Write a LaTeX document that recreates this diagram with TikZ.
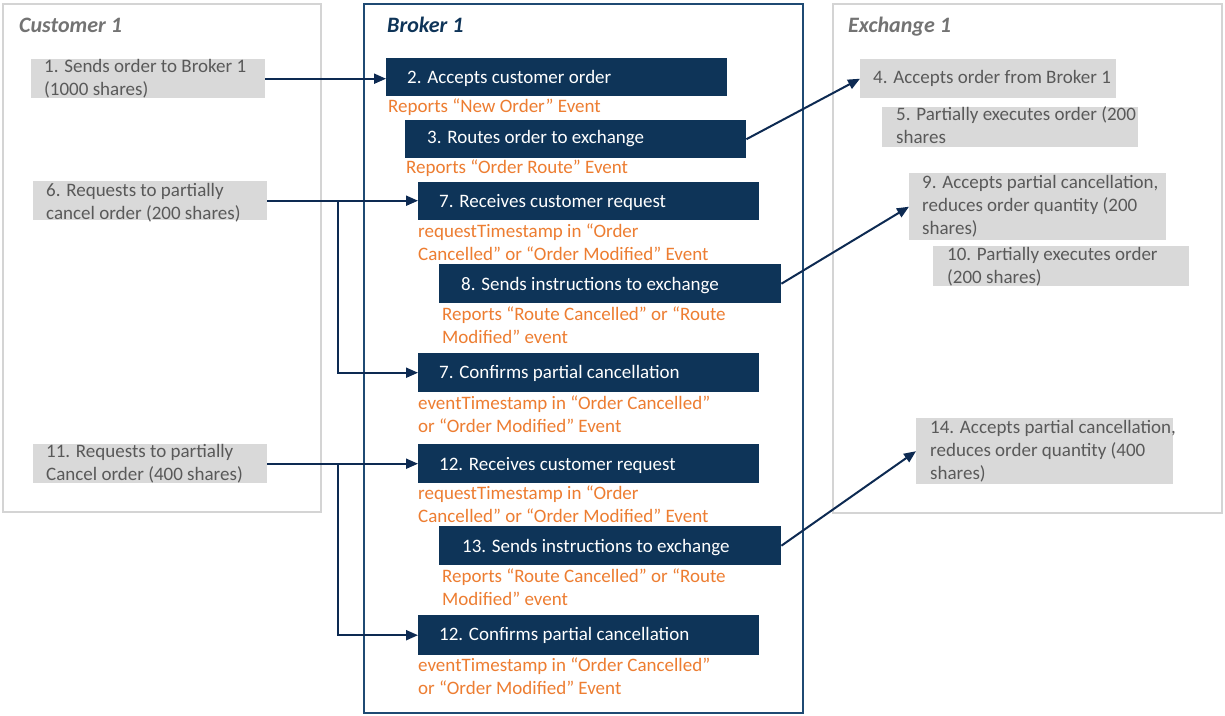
\documentclass[tikz,border=0pt]{standalone}
\usepackage{fontspec}
\setmainfont{Carlito}
\usetikzlibrary{arrows.meta}
\definecolor{navybox}{HTML}{0E3458}
\definecolor{navyline}{HTML}{0D2A52}
\definecolor{brokerframe}{HTML}{1F4A73}
\definecolor{framegray}{HTML}{D4D4D4}
\definecolor{boxgray}{HTML}{D9D9D9}
\definecolor{txtgray}{HTML}{595959}
\definecolor{titlegray}{HTML}{737373}
\definecolor{evorange}{HTML}{ED7D31}
\tikzset{
  frame/.style={draw=framegray, line width=2pt},
  bframe/.style={draw=brokerframe, line width=2pt},
  gbox/.style={fill=boxgray, draw=none, inner sep=0pt, anchor=north west},
  nbox/.style={fill=navybox, draw=none, inner sep=0pt, anchor=north west},
  bodyfont/.style={font=\fontsize{19}{23}\selectfont},
  gtext/.style={bodyfont, align=left, inner sep=0pt, anchor=base west, text=txtgray},
  ntext/.style={bodyfont, align=left, inner sep=0pt, anchor=base west, text=white},
  otext/.style={bodyfont, align=left, inner sep=0pt, anchor=base west, text=evorange},
  ttl/.style={font=\fontsize{22}{26}\selectfont\bfseries\itshape, inner sep=0pt, anchor=base west},
  conn/.style={draw=navyline, line width=2pt, -{Triangle[length=12pt,width=10pt]}}
}
\begin{document}
\begin{tikzpicture}[x=1pt,y=-1pt]
\useasboundingbox (0,0) rectangle (1225,715);
\fill[white] (0,0) rectangle (1225,715);
% frames
\draw[frame] (3,4) rectangle (321,512);
\draw[bframe] (364,4) rectangle (803,713);
\draw[frame] (833,4) rectangle (1222,513);
% titles
\node[ttl, text=titlegray] (tc) at (19,32) {Customer 1};
\node[ttl, text=navybox] (tb) at (387,32) {Broker 1};
\node[ttl, text=titlegray] (te) at (848,32) {Exchange 1};
% customer boxes (text anchors are at the baseline of the last line)
\node[gbox, minimum width=234pt, minimum height=39pt] (c1) at (31,59) {};
\node[gtext] (c1t) at (44,95) {1. Sends order to Broker 1\\(1000 shares)};
\node[gbox, minimum width=234pt, minimum height=39pt] (c6) at (33,181) {};
\node[gtext] (c6t) at (46,219) {6. Requests to partially\\cancel order (200 shares)};
\node[gbox, minimum width=234pt, minimum height=39pt] (c11) at (33,444) {};
\node[gtext] (c11t) at (46,480) {11. Requests to partially\\Cancel order (400 shares)};
% exchange boxes
\node[gbox, minimum width=256pt, minimum height=39pt] (e4) at (860,59) {};
\node[gtext] (e4t) at (873,83) {4. Accepts order from Broker 1};
\node[gbox, minimum width=256pt, minimum height=40pt] (e5) at (882,107) {};
\node[gtext] (e5t) at (896,143) {5. Partially executes order (200\\shares};
\node[gbox, minimum width=257pt, minimum height=67pt] (e9) at (909,173) {};
\node[gtext] (e9t) at (922,234) {9. Accepts partial cancellation,\\reduces order quantity (200\\shares)};
\node[gbox, minimum width=256pt, minimum height=40pt] (e10) at (933,246) {};
\node[gtext] (e10t) at (947,283) {10. Partially executes order\\(200 shares)};
\node[gbox, minimum width=257pt, minimum height=66pt] (e14) at (916,418) {};
\node[gtext] (e14t) at (930,479) {14. Accepts partial cancellation,\\reduces order quantity (400\\shares)};
% broker boxes
\node[nbox, minimum width=341pt, minimum height=38pt] (b2) at (386,58) {};
\node[ntext] (b2t) at (407,83) {2. Accepts customer order};
\node[otext] (o2) at (388,112) {Reports “New Order” Event};
\node[nbox, minimum width=341pt, minimum height=38pt] (b3) at (405,120) {};
\node[ntext] (b3t) at (427,143) {3. Routes order to exchange};
\node[otext] (o3) at (406,173) {Reports “Order Route” Event};
\node[nbox, minimum width=341pt, minimum height=38pt] (b7) at (418,182) {};
\node[ntext] (b7t) at (439,207) {7. Receives customer request};
\node[otext] (o7) at (418,260) {requestTimestamp in “Order\\Cancelled” or “Order Modified” Event};
\node[nbox, minimum width=342pt, minimum height=39pt] (b8) at (439,264) {};
\node[ntext] (b8t) at (461,290) {8. Sends instructions to exchange};
\node[otext] (o8) at (442,343) {Reports “Route Cancelled” or “Route\\Modified” event};
\node[nbox, minimum width=341pt, minimum height=39pt] (b7c) at (418,353) {};
\node[ntext] (b7ct) at (439,378) {7. Confirms partial cancellation};
\node[otext] (o7c) at (418,432) {eventTimestamp in “Order Cancelled”\\or “Order Modified” Event};
\node[nbox, minimum width=341pt, minimum height=39pt] (b12) at (418,444) {};
\node[ntext] (b12t) at (439,470) {12. Receives customer request};
\node[otext] (o12) at (418,522) {requestTimestamp in “Order\\Cancelled” or “Order Modified” Event};
\node[nbox, minimum width=342pt, minimum height=39pt] (b13) at (439,526) {};
\node[ntext] (b13t) at (462,552) {13. Sends instructions to exchange};
\node[otext] (o13) at (442,605) {Reports “Route Cancelled” or “Route\\Modified” event};
\node[nbox, minimum width=341pt, minimum height=40pt] (b12c) at (418,615) {};
\node[ntext] (b12ct) at (439,640) {12. Confirms partial cancellation};
\node[otext] (o12c) at (418,694) {eventTimestamp in “Order Cancelled”\\or “Order Modified” Event};
% junction column
\coordinate (jx) at (338,0);
% connectors
\draw[conn] (c1.east) -- (c1.east -| b2.west);
\draw[conn] (b3.east) -- (e4.west);
\draw[conn] (c6.east) -- (c6.east -| b7.west);
\draw[conn] (c6.east -| jx) |- (b7c.west);
\draw[conn] (b8.east) -- (e9.west);
\draw[conn] (c11.east) -- (c11.east -| b12.west);
\draw[conn] (c11.east -| jx) |- (b12c.west);
\draw[conn] (b13.east) -- (e14.west);
\end{tikzpicture}
\end{document}
